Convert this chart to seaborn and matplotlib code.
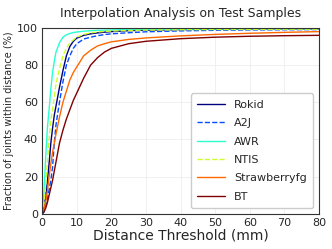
import numpy as np
import pandas as pd
import matplotlib
matplotlib.use("Agg")
import matplotlib.pyplot as plt
import seaborn as sns

# distance thresholds (mm) and fraction of joints within distance (%)
thresholds = [0, 0.5, 1, 1.5, 2, 2.5, 3, 3.5, 4, 5, 6, 7, 8, 9, 10, 12, 14, 16, 18, 20, 25, 30, 40, 50, 60, 70, 80]

rokid = [0, 3, 9, 17, 27, 38, 46, 53, 58, 68, 77, 85, 90, 92.8, 94.5, 96, 96.8, 97.3, 97.7, 98, 98.5, 98.8, 99.1, 99.3, 99.4, 99.5, 99.5]
a2j = [0, 1, 4, 8, 13, 18, 25, 38, 48, 60, 71, 80, 85, 89, 91.5, 94, 95, 95.8, 96.4, 96.8, 97.4, 97.9, 98.4, 98.7, 98.9, 99.0, 99.1]
awr = [0, 11, 30, 46, 56, 67, 76, 82, 87, 92, 95, 96.3, 97, 97.5, 97.8, 98.2, 98.5, 98.7, 98.8, 98.9, 99.1, 99.2, 99.3, 99.4, 99.5, 99.5, 99.6]
ntis = [0, 5, 15, 28, 40, 50, 56, 63, 70, 78, 85, 89, 92, 93.5, 95, 96.5, 97.3, 97.8, 98.1, 98.3, 98.6, 98.8, 99.0, 99.1, 99.2, 99.3, 99.3]
strawberryfg = [0, 2, 6, 12, 20, 27, 33, 38, 43, 52, 60, 66, 72, 76, 79, 85, 88, 90.3, 91.5, 92.5, 93.8, 94.6, 95.7, 96.5, 97.1, 97.6, 98]
bt = [0, 1, 3, 6, 10, 14, 18, 23, 28, 38, 45, 51, 56, 61, 65, 73, 80, 84, 87, 89, 91.5, 92.8, 94.2, 95, 95.5, 95.8, 96]

methods = ["Rokid", "A2J", "AWR", "NTIS", "Strawberryfg", "BT"]
series = [rokid, a2j, awr, ntis, strawberryfg, bt]
dashed = {"A2J", "NTIS"}

sns.set_style("whitegrid")
colors = plt.cm.jet(np.linspace(0, 1, len(methods)))

fig = plt.figure(figsize=(3.32, 2.49), dpi=100)
ax = fig.add_axes([0.127, 0.141, 0.834, 0.747])

for name, vals, col in zip(methods, series, colors):
    df = pd.DataFrame({"x": thresholds, "y": vals})
    sns.lineplot(data=df, x="x", y="y", ax=ax, color=col, linewidth=1.0,
                 linestyle="--" if name in dashed else "-", label=name)

ax.set_xlim(0, 80)
ax.set_ylim(0, 100)
ax.set_xticks(range(0, 81, 10))
ax.set_yticks(range(0, 101, 20))
ax.tick_params(labelsize=8, pad=3, length=0)
ax.grid(True, color="#eeeeee", linewidth=0.6)
for s in ax.spines.values():
    s.set_color("#333333")
    s.set_linewidth(0.8)

ax.set_title("Interpolation Analysis on Test Samples", fontsize=9, pad=8)
ax.set_xlabel("Distance Threshold (mm)", fontsize=10, labelpad=0)
ax.set_ylabel("Fraction of joints within distance (%)", fontsize=7, labelpad=2)
ax.legend(loc="lower right", fontsize=8, handlelength=2.5, frameon=True,
          borderpad=0.6, labelspacing=0.75, framealpha=1, edgecolor="#cccccc")

fig.savefig("out.png", dpi=100)
